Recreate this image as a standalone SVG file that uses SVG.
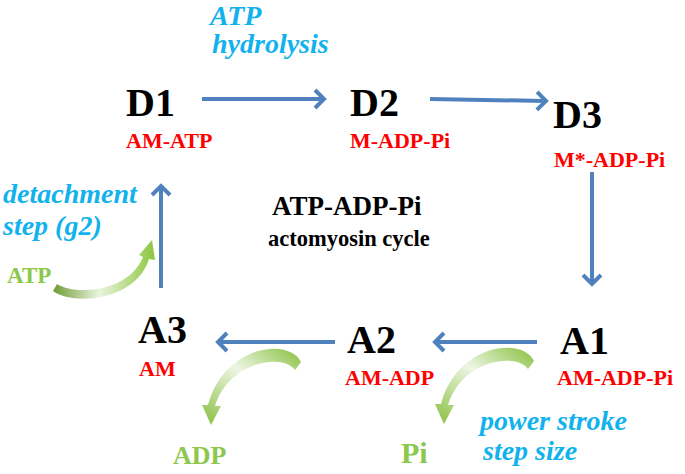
<svg xmlns="http://www.w3.org/2000/svg" xmlns:xlink="http://www.w3.org/1999/xlink" width="685" height="474" viewBox="0 0 685 474">
<style>
.st{fill:#000}
.lb{fill:#ff0000}
.bl{fill:#12b2ec}
.gr{fill:#8cc84b}
.ar{fill:none;stroke:#4f81bd;stroke-width:4;marker-end:url(#ah)}
</style>
<defs>
<marker id="ah" markerWidth="8" markerHeight="8" refX="6" refY="4" orient="auto" markerUnits="userSpaceOnUse" viewBox="0 0 8 8" overflow="visible">
<path d="M-3,-5 L6,4 L-3,13" fill="none" stroke="#4f81bd" stroke-width="4"/>
</marker>
<linearGradient id="g1" x1="0" y1="0.5" x2="1" y2="0.5">
<stop offset="0" stop-color="#6e9a34"/>
<stop offset="0.45" stop-color="#e9f4dd"/>
<stop offset="1" stop-color="#8cc63f"/>
</linearGradient>
<linearGradient id="g2" x1="1" y1="0" x2="0" y2="1">
<stop offset="0" stop-color="#86bf3c"/>
<stop offset="0.45" stop-color="#eef6e4"/>
<stop offset="1" stop-color="#86bf3c"/>
</linearGradient>
<path id="curl" d="M301,362 C289,337 224,345 208,405 L202,405 L211,425 L221,406 L215,406 C229,361 283,353 295,370 Z" fill="url(#g2)"/>
</defs>
<g id="connectors">
<line class="ar" x1="202" y1="99" x2="324" y2="99"/>
<line class="ar" x1="430" y1="99" x2="546" y2="101"/>
<line class="ar" x1="592" y1="172" x2="592" y2="284"/>
<line class="ar" x1="537" y1="342" x2="435" y2="342"/>
<line class="ar" x1="335" y1="342" x2="218" y2="342"/>
<line class="ar" x1="161" y1="288" x2="161" y2="186"/>
<path id="curl-atp" d="M53,291 C73,306 136,301 149,259 L155,260 L152,240 L139,255 L143,257 C129,292 76,296 57,284 Z" fill="url(#g1)"/>
<use id="curl-adp" xlink:href="#curl"/>
<use id="curl-pi" xlink:href="#curl" transform="translate(233,-1)"/>
</g>
<g id="label-hydrolysis">
<text class="bl" x="210" y="25" font-family="Liberation Serif" font-weight="bold" font-style="italic" font-size="28">ATP</text>
<text class="bl" x="212" y="53" font-family="Liberation Serif" font-weight="bold" font-style="italic" font-size="28">hydrolysis</text>
</g>
<g id="D1">
<text class="st" x="126" y="116" font-family="Liberation Serif" font-weight="bold" font-size="40">D1</text>
<text class="lb" x="126" y="148" font-family="Liberation Serif" font-weight="bold" font-size="22">AM-ATP</text>
</g>
<g id="D2">
<text class="st" x="350" y="116" font-family="Liberation Serif" font-weight="bold" font-size="40">D2</text>
<text class="lb" x="350" y="148" font-family="Liberation Serif" font-weight="bold" font-size="22">M-ADP-Pi</text>
</g>
<g id="D3">
<text class="st" x="553" y="128" font-family="Liberation Serif" font-weight="bold" font-size="40">D3</text>
<text class="lb" x="554" y="167" font-family="Liberation Serif" font-weight="bold" font-size="22">M*-ADP-Pi</text>
</g>
<g id="title">
<text class="st" x="272" y="215" font-family="Liberation Serif" font-weight="bold" font-size="27">ATP-ADP-Pi</text>
<text class="st" x="268" y="246" font-family="Liberation Serif" font-weight="bold" font-size="22.5">actomyosin cycle</text>
</g>
<g id="A1">
<text class="st" x="560" y="354" font-family="Liberation Serif" font-weight="bold" font-size="40">A1</text>
<text class="lb" x="557" y="385" font-family="Liberation Serif" font-weight="bold" font-size="22">AM-ADP-Pi</text>
</g>
<g id="A2">
<text class="st" x="347" y="353" font-family="Liberation Serif" font-weight="bold" font-size="40">A2</text>
<text class="lb" x="345" y="385" font-family="Liberation Serif" font-weight="bold" font-size="22">AM-ADP</text>
</g>
<g id="A3">
<text class="st" x="138" y="343" font-family="Liberation Serif" font-weight="bold" font-size="40">A3</text>
<text class="lb" x="139" y="376" font-family="Liberation Serif" font-weight="bold" font-size="22">AM</text>
</g>
<g id="label-detachment">
<text class="bl" x="3" y="203" font-family="Liberation Serif" font-weight="bold" font-style="italic" font-size="28">detachment</text>
<text class="bl" x="3" y="235" font-family="Liberation Serif" font-weight="bold" font-style="italic" font-size="28">step (g2)</text>
</g>
<g id="label-powerstroke">
<text class="bl" x="480" y="430" font-family="Liberation Serif" font-weight="bold" font-style="italic" font-size="28">power stroke</text>
<text class="bl" x="483" y="460" font-family="Liberation Serif" font-weight="bold" font-style="italic" font-size="28">step size</text>
</g>
<g id="ATP">
<text class="gr" x="7" y="283" font-family="Liberation Serif" font-weight="bold" font-size="23">ATP</text>
</g>
<g id="ADP">
<text class="gr" x="173" y="464" font-family="Liberation Serif" font-weight="bold" font-size="26">ADP</text>
</g>
<g id="Pi">
<text class="gr" x="401" y="463" font-family="Liberation Serif" font-weight="bold" font-size="30">Pi</text>
</g>
</svg>
